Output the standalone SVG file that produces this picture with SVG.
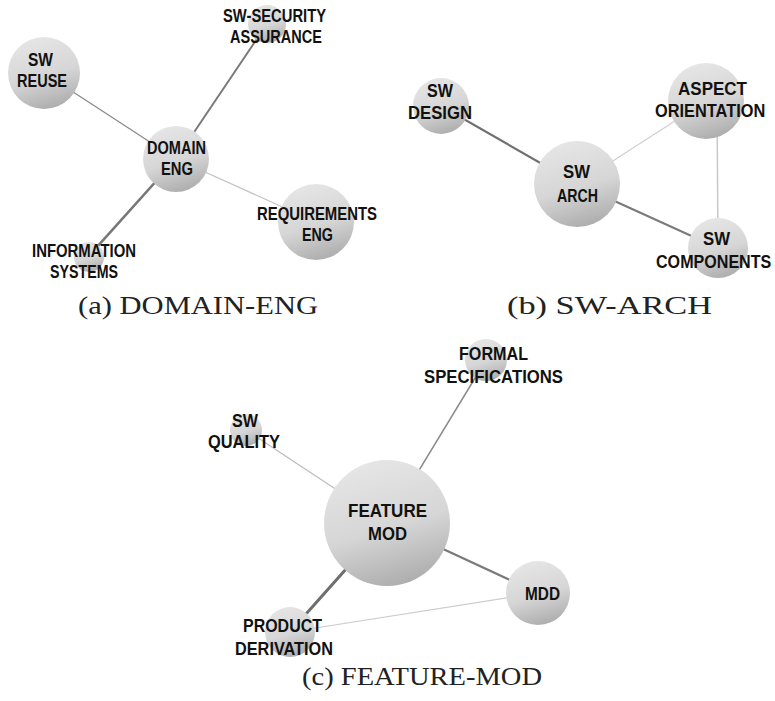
<svg xmlns="http://www.w3.org/2000/svg" width="775" height="701" viewBox="0 0 775 701">
<style>
.n{fill:url(#g)}
.l{font-family:"Liberation Sans",Arial,sans-serif;font-weight:bold;fill:#111}
.a{font-size:17.5px}
.b{font-size:18.5px}
.e{stroke-linecap:round;fill:none}
.cap{font-family:"Liberation Serif","DejaVu Serif",serif;font-size:25px;fill:#222}
</style>
<defs>
<linearGradient id="g" x1="0.3" y1="0" x2="0.6" y2="1">
<stop offset="0" stop-color="#e6e6e6"/>
<stop offset="0.55" stop-color="#d6d6d6"/>
<stop offset="1" stop-color="#adadad"/>
</linearGradient>
</defs>
<rect width="775" height="701" fill="#fff"/>
<g id="connectors">
<line class="e" x1="44" y1="73" x2="176" y2="159" stroke="#8a8a8a" stroke-width="1.3"/>
<line class="e" x1="176" y1="159" x2="267" y2="24" stroke="#7a7a7a" stroke-width="2"/>
<line class="e" x1="176" y1="159" x2="316" y2="222" stroke="#c4c4c4" stroke-width="1.2"/>
<line class="e" x1="176" y1="159" x2="88" y2="257" stroke="#777" stroke-width="2.6"/>
<line class="e" x1="441" y1="106" x2="577" y2="184" stroke="#707070" stroke-width="2.2"/>
<line class="e" x1="577" y1="184" x2="706" y2="101" stroke="#cfcfcf" stroke-width="1.2"/>
<line class="e" x1="577" y1="184" x2="718" y2="248" stroke="#7a7a7a" stroke-width="2"/>
<line class="e" x1="717" y1="101" x2="718" y2="248" stroke="#c8c8c8" stroke-width="1.5"/>
<line class="e" x1="387" y1="523" x2="486" y2="360" stroke="#8a8a8a" stroke-width="1.5"/>
<line class="e" x1="387" y1="523" x2="246" y2="430" stroke="#bdbdbd" stroke-width="1.2"/>
<line class="e" x1="387" y1="523" x2="538" y2="593" stroke="#7a7a7a" stroke-width="2.2"/>
<line class="e" x1="387" y1="523" x2="290" y2="632" stroke="#6e6e6e" stroke-width="3"/>
<line class="e" x1="538" y1="593" x2="290" y2="632" stroke="#cccccc" stroke-width="1.2"/>
</g>
<g id="sw-reuse"><circle class="n" cx="44" cy="73" r="36"/><text class="l a" x="28" y="65.7" textLength="25" lengthAdjust="spacingAndGlyphs">SW</text><text class="l a" x="17" y="87" textLength="50" lengthAdjust="spacingAndGlyphs">REUSE</text></g>
<g id="sw-security"><circle class="n" cx="267" cy="24" r="19"/><text class="l a" x="223" y="21.7" textLength="103" lengthAdjust="spacingAndGlyphs">SW-SECURITY</text><text class="l a" x="230" y="42.7" textLength="92" lengthAdjust="spacingAndGlyphs">ASSURANCE</text></g>
<g id="domain-eng"><circle class="n" cx="176" cy="159" r="33"/><text class="l a" x="147" y="154" textLength="59" lengthAdjust="spacingAndGlyphs">DOMAIN</text><text class="l a" x="161" y="175" textLength="32" lengthAdjust="spacingAndGlyphs">ENG</text></g>
<g id="requirements-eng"><circle class="n" cx="316" cy="222" r="38"/><text class="l a" x="257" y="220" textLength="120" lengthAdjust="spacingAndGlyphs">REQUIREMENTS</text><text class="l a" x="302" y="241" textLength="31" lengthAdjust="spacingAndGlyphs">ENG</text></g>
<g id="information-systems"><circle class="n" cx="89" cy="257" r="15"/><text class="l a" x="32" y="257" textLength="104" lengthAdjust="spacingAndGlyphs">INFORMATION</text><text class="l a" x="50" y="278" textLength="68" lengthAdjust="spacingAndGlyphs">SYSTEMS</text></g>
<g id="sw-design"><circle class="n" cx="441" cy="106" r="28"/><text class="l b" x="427" y="96.7" textLength="26" lengthAdjust="spacingAndGlyphs">SW</text><text class="l b" x="408" y="119" textLength="64" lengthAdjust="spacingAndGlyphs">DESIGN</text></g>
<g id="aspect-orientation"><circle class="n" cx="706" cy="101" r="38"/><text class="l b" x="678" y="95" textLength="69" lengthAdjust="spacingAndGlyphs">ASPECT</text><text class="l b" transform="translate(655,116.7) scale(0.885,1)" x="0" y="0">ORIENTATION</text></g>
<g id="sw-arch"><circle class="n" cx="577" cy="184" r="43"/><text class="l b" x="563" y="178" textLength="27" lengthAdjust="spacingAndGlyphs">SW</text><text class="l b" x="557" y="201.7" textLength="41" lengthAdjust="spacingAndGlyphs">ARCH</text></g>
<g id="sw-components"><circle class="n" cx="718" cy="248" r="30"/><text class="l b" x="703" y="245" textLength="27" lengthAdjust="spacingAndGlyphs">SW</text><text class="l b" transform="translate(656,268) scale(0.87,1)" x="0" y="0">COMPONENTS</text></g>
<g id="formal-specifications"><circle class="n" cx="486" cy="360" r="21"/><text class="l b" x="459" y="360" textLength="69" lengthAdjust="spacingAndGlyphs">FORMAL</text><text class="l b" x="424" y="382.7" textLength="139" lengthAdjust="spacingAndGlyphs">SPECIFICATIONS</text></g>
<g id="sw-quality"><circle class="n" cx="246" cy="430" r="16"/><text class="l b" x="232" y="427.3" textLength="26" lengthAdjust="spacingAndGlyphs">SW</text><text class="l b" x="208" y="448.3" textLength="72" lengthAdjust="spacingAndGlyphs">QUALITY</text></g>
<g id="feature-mod"><circle class="n" cx="387" cy="523" r="63"/><text class="l b" x="348" y="516.7" textLength="79" lengthAdjust="spacingAndGlyphs">FEATURE</text><text class="l b" x="368" y="540" textLength="39" lengthAdjust="spacingAndGlyphs">MOD</text></g>
<g id="mdd"><circle class="n" cx="538" cy="593" r="32"/><text class="l b" x="525" y="600" textLength="35" lengthAdjust="spacingAndGlyphs">MDD</text></g>
<g id="product-derivation"><circle class="n" cx="290" cy="632" r="25"/><text class="l b" x="243" y="631.7" textLength="79" lengthAdjust="spacingAndGlyphs">PRODUCT</text><text class="l b" x="235" y="655" textLength="98" lengthAdjust="spacingAndGlyphs">DERIVATION</text></g>
<g id="captions">
<text class="cap" x="78" y="314" textLength="240" lengthAdjust="spacingAndGlyphs">(a) DOMAIN-ENG</text>
<text class="cap" x="507" y="314" textLength="205" lengthAdjust="spacingAndGlyphs">(b) SW-ARCH</text>
<text class="cap" x="302" y="685" textLength="240" lengthAdjust="spacingAndGlyphs">(c) FEATURE-MOD</text>
</g>
</svg>
